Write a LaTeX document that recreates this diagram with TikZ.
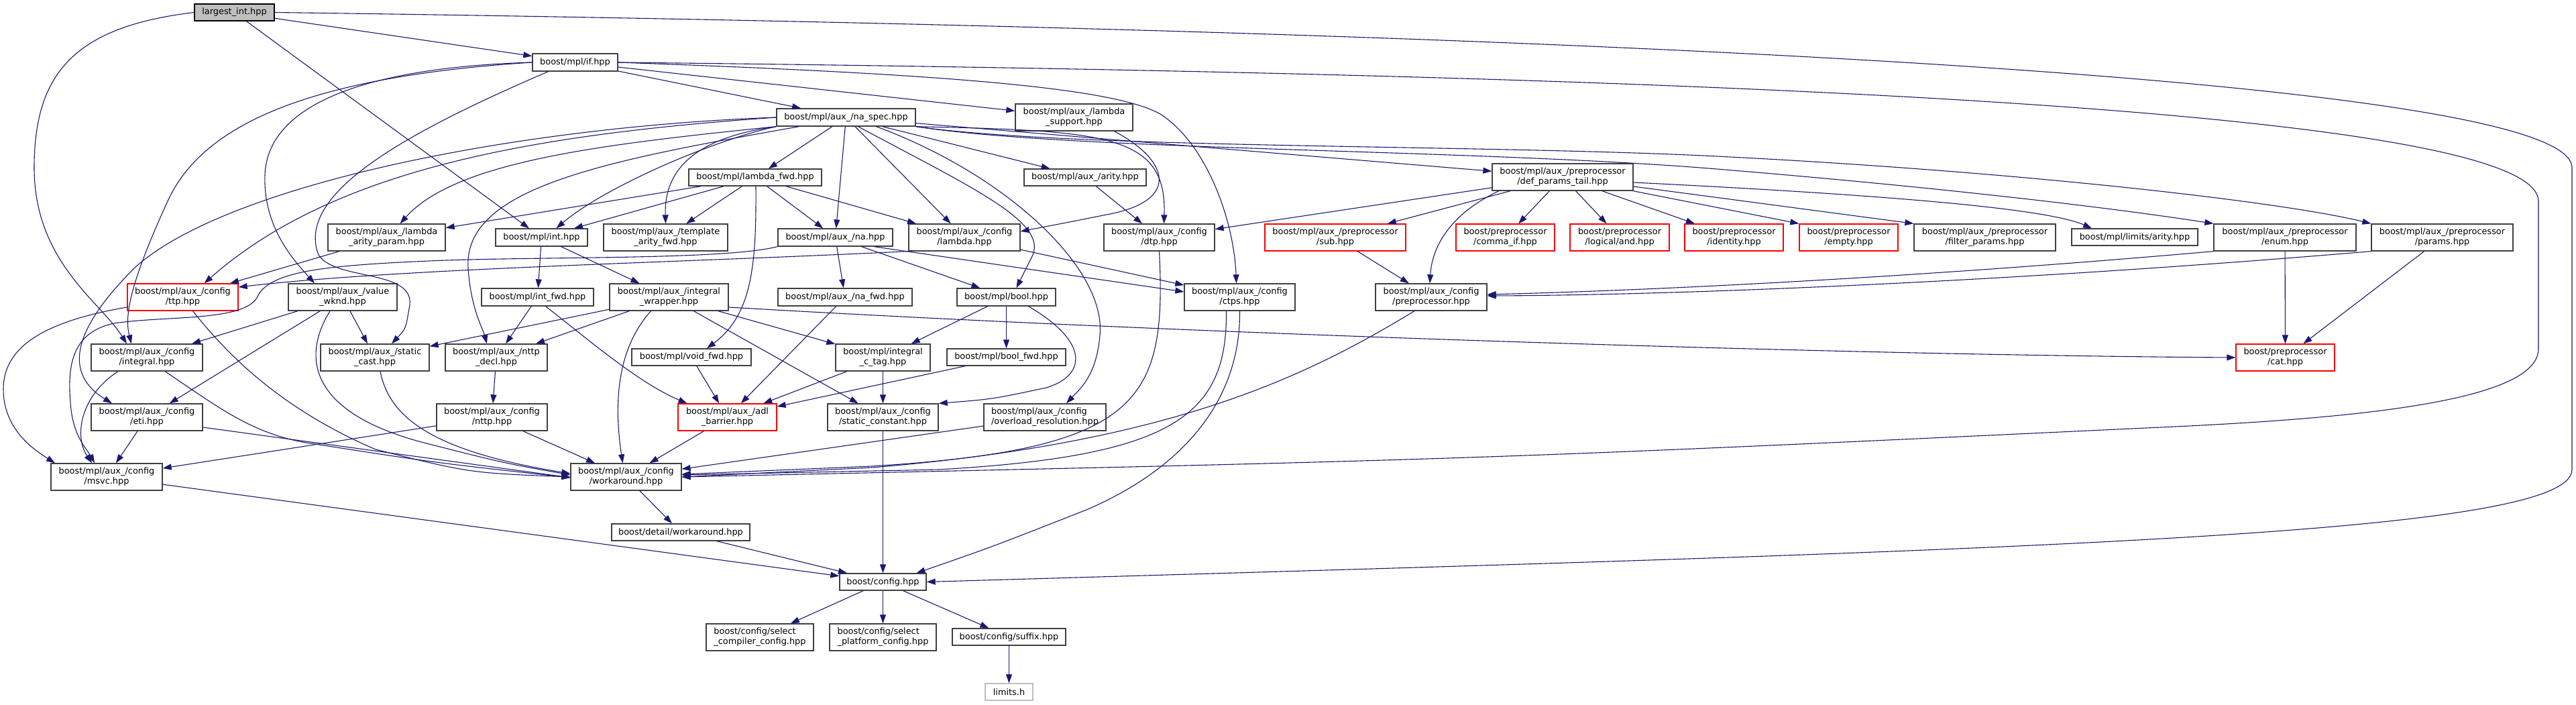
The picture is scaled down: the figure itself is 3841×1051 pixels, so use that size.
\documentclass[tikz,border=0pt]{standalone}
\usepackage{fontspec}
\setmainfont{DejaVu Sans}
\usetikzlibrary{arrows.meta}
\definecolor{edgec}{HTML}{191970}
\definecolor{nodeb}{HTML}{404040}
\definecolor{grayf}{HTML}{BFBFBF}
\newcommand\twol[2]{\begin{tabular}{@{}l@{}}#1\\\multicolumn{1}{@{}c@{}}{#2}\end{tabular}}
\tikzset{
  nb/.style={draw=nodeb, line width=1.3pt, fill=white, inner sep=0pt, text=black,
    font=\fontsize{12.9pt}{15.2pt}\selectfont},
  rb/.style={nb, draw=red},
  edg/.style={draw=edgec, line width=1.1pt, -{Triangle[length=13pt,width=9pt]}},
}
\begin{document}
\begin{tikzpicture}[x=1pt,y=-1pt]
\fill[white] (0,0) rectangle (3841,1051);
\useasboundingbox (0,0) rectangle (3841,1051);
% nodes
\node[nb,fill=grayf,draw=black,minimum width=119pt,minimum height=25pt] (A) at (349.5,18.5) {largest\_int.hpp};
\node[nb,minimum width=127pt,minimum height=26pt] (B) at (857.5,93) {boost/mpl/if.hpp};
\node[nb,minimum width=207pt,minimum height=26pt] (C) at (1261.5,175) {boost/mpl/aux\_/na\_spec.hpp};
\node[nb,minimum width=175pt,minimum height=40pt] (D) at (1601.5,175) {\twol{boost/mpl/aux\_/lambda}{\_support.hpp}};
\node[nb,minimum width=198pt,minimum height=25pt] (E) at (1126,264.5) {boost/mpl/lambda\_fwd.hpp};
\node[nb,minimum width=182pt,minimum height=25pt] (F) at (1618,264.5) {boost/mpl/aux\_/arity.hpp};
\node[nb,minimum width=210pt,minimum height=40pt] (G) at (2330,264) {\twol{boost/mpl/aux\_/preprocessor}{/def\_params\_tail.hpp}};
\node[nb,minimum width=175pt,minimum height=40pt] (H) at (576.5,354) {\twol{boost/mpl/aux\_/lambda}{\_arity\_param.hpp}};
\node[nb,minimum width=137pt,minimum height=26pt] (I) at (807.5,354) {boost/mpl/int.hpp};
\node[nb,minimum width=185pt,minimum height=40pt] (J) at (992.5,354) {\twol{boost/mpl/aux\_/template}{\_arity\_fwd.hpp}};
\node[nb,minimum width=171pt,minimum height=26pt] (K) at (1245.5,354) {boost/mpl/aux\_/na.hpp};
\node[nb,minimum width=166pt,minimum height=40pt] (L) at (1438,354) {\twol{boost/mpl/aux\_/config}{/lambda.hpp}};
\node[nb,minimum width=165pt,minimum height=40pt] (M) at (1728.5,354) {\twol{boost/mpl/aux\_/config}{/dtp.hpp}};
\node[rb,minimum width=210pt,minimum height=40pt] (N) at (1991,354) {\twol{boost/mpl/aux\_/preprocessor}{/sub.hpp}};
\node[rb,minimum width=147pt,minimum height=40pt] (O) at (2244.5,354) {\twol{boost/preprocessor}{/comma\_if.hpp}};
\node[rb,minimum width=148pt,minimum height=40pt] (P) at (2415,354) {\twol{boost/preprocessor}{/logical/and.hpp}};
\node[rb,minimum width=147pt,minimum height=40pt] (Q) at (2585.5,354) {\twol{boost/preprocessor}{/identity.hpp}};
\node[rb,minimum width=147pt,minimum height=40pt] (R) at (2756.5,354) {\twol{boost/preprocessor}{/empty.hpp}};
\node[nb,minimum width=211pt,minimum height=40pt] (S) at (2959.5,354) {\twol{boost/mpl/aux\_/preprocessor}{/filter\_params.hpp}};
\node[nb,minimum width=188pt,minimum height=25pt] (T) at (3183,353.5) {boost/mpl/limits/arity.hpp};
\node[nb,minimum width=212pt,minimum height=40pt] (U) at (3407,354) {\twol{boost/mpl/aux\_/preprocessor}{/enum.hpp}};
\node[nb,minimum width=211pt,minimum height=40pt] (V) at (3641.5,354) {\twol{boost/mpl/aux\_/preprocessor}{/params.hpp}};
\node[rb,minimum width=165pt,minimum height=40pt] (W) at (272.5,443) {\twol{boost/mpl/aux\_/config}{/ttp.hpp}};
\node[nb,minimum width=162pt,minimum height=40pt] (X) at (511,443) {\twol{boost/mpl/aux\_/value}{\_wknd.hpp}};
\node[nb,minimum width=167pt,minimum height=26pt] (Y) at (801.5,443) {boost/mpl/int\_fwd.hpp};
\node[nb,minimum width=177pt,minimum height=40pt] (Z) at (997.5,443) {\twol{boost/mpl/aux\_/integral}{\_wrapper.hpp}};
\node[nb,minimum width=200pt,minimum height=26pt] (AA) at (1260,443) {boost/mpl/aux\_/na\_fwd.hpp};
\node[nb,minimum width=147pt,minimum height=26pt] (AB) at (1500.5,443) {boost/mpl/bool.hpp};
\node[nb,minimum width=165pt,minimum height=40pt] (AC) at (1848.5,443) {\twol{boost/mpl/aux\_/config}{/ctps.hpp}};
\node[nb,minimum width=166pt,minimum height=40pt] (AD) at (2134,443) {\twol{boost/mpl/aux\_/config}{/preprocessor.hpp}};
\node[nb,minimum width=166pt,minimum height=40pt] (AE) at (219,533) {\twol{boost/mpl/aux\_/config}{/integral.hpp}};
\node[nb,minimum width=162pt,minimum height=40pt] (AF) at (559,533) {\twol{boost/mpl/aux\_/static}{\_cast.hpp}};
\node[nb,minimum width=152pt,minimum height=40pt] (AG) at (740,533) {\twol{boost/mpl/aux\_/nttp}{\_decl.hpp}};
\node[nb,minimum width=178pt,minimum height=25pt] (AH) at (1031,532.5) {boost/mpl/void\_fwd.hpp};
\node[nb,minimum width=141pt,minimum height=40pt] (AI) at (1316.5,533) {\twol{boost/mpl/integral}{\_c\_tag.hpp}};
\node[nb,minimum width=177pt,minimum height=25pt] (AJ) at (1500.5,532.5) {boost/mpl/bool\_fwd.hpp};
\node[rb,minimum width=147pt,minimum height=40pt] (AK) at (3407.5,533) {\twol{boost/preprocessor}{/cat.hpp}};
\node[nb,minimum width=166pt,minimum height=40pt] (AL) at (219,622) {\twol{boost/mpl/aux\_/config}{/eti.hpp}};
\node[nb,minimum width=165pt,minimum height=40pt] (AM) at (733.5,622) {\twol{boost/mpl/aux\_/config}{/nttp.hpp}};
\node[rb,minimum width=147pt,minimum height=40pt] (AN) at (1084.5,622) {\twol{boost/mpl/aux\_/adl}{\_barrier.hpp}};
\node[nb,minimum width=165pt,minimum height=40pt] (AO) at (1316.5,622) {\twol{boost/mpl/aux\_/config}{/static\_constant.hpp}};
\node[nb,minimum width=182pt,minimum height=40pt] (AP) at (1558,622) {\twol{boost/mpl/aux\_/config}{/overload\_resolution.hpp}};
\node[nb,minimum width=166pt,minimum height=40pt] (AQ) at (159,711) {\twol{boost/mpl/aux\_/config}{/msvc.hpp}};
\node[nb,minimum width=165pt,minimum height=40pt] (AR) at (933.5,711) {\twol{boost/mpl/aux\_/config}{/workaround.hpp}};
\node[nb,minimum width=206pt,minimum height=25pt] (AS) at (1015,793.5) {boost/detail/workaround.hpp};
\node[nb,minimum width=129pt,minimum height=25pt] (AT) at (1316.5,867.5) {boost/config.hpp};
\node[nb,minimum width=160pt,minimum height=40pt] (AU) at (1133,950) {\twol{boost/config/select}{\_compiler\_config.hpp}};
\node[nb,minimum width=159pt,minimum height=40pt] (AV) at (1316.5,950) {\twol{boost/config/select}{\_platform\_config.hpp}};
\node[nb,minimum width=169pt,minimum height=25pt] (AW) at (1504.5,949.5) {boost/config/suffix.hpp};
\node[nb,draw=grayf,minimum width=71pt,minimum height=25pt] (AX) at (1504.5,1031.5) {limits.h};
% largest_int
\draw[edg] (A) -- (B);
\draw[edg] (A) -- (I);
\draw[edg] (A.west) .. controls (110,40) and (51,110) .. (51,250) .. controls (51,390) and (150,450) .. ([xshift=-30pt]AE.north);
\draw[edg] (A.east) .. controls (2000,40) and (3835,100) .. (3835,250) -- (3835,700) .. controls (3835,800) and (3000,820) .. (AT.east);
% if
\draw[edg] (B.west) .. controls (560,100) and (400,150) .. (395,260) .. controls (392,340) and (440,390) .. ([xshift=-42pt]X.north);
\draw[edg] (B.west) .. controls (450,115) and (300,190) .. (250,300) .. controls (195,420) and (185,470) .. ([xshift=-23pt]AE.north);
\draw[edg] ([xshift=-40pt]B.south) .. controls (600,200) and (440,290) .. (475,380) .. controls (500,420) and (625,400) .. (610,460) .. controls (605,490) .. ([xshift=25pt]AF.north);
\draw[edg] (B) -- (C);
\draw[edg] (B) -- (D);
\draw[edg] (B.east) .. controls (1400,110) and (1660,130) .. (1730,170) .. controls (1800,215) and (1840,330) .. ([xshift=-5pt]AC.north);
\draw[edg] (B.east) .. controls (2500,110) and (3785,160) .. (3785,300) -- (3785,520) .. controls (3785,600) and (3500,625) .. (3200,638) .. controls (2200,685) .. (AR.east);
% na_spec
\draw[edg] (C) -- (E);
\draw[edg] (C) -- (K);
\draw[edg] (C.south west) .. controls (1060,210) and (900,280) .. ([xshift=22pt]I.north);
\draw[edg] (C.south west) .. controls (1040,205) and (990,250) .. (J.north);
\draw[edg] ([xshift=-70pt]C.south) .. controls (900,240) and (690,280) .. (698,400) .. controls (702,460) and (720,490) .. ([xshift=-14pt]AG.north);
\draw[edg] ([xshift=18pt]C.south) .. controls (1450,280) and (1560,330) .. (1540,380) .. controls (1530,400) .. ([xshift=15pt]AB.north);
\draw[edg] (C) -- (F);
\draw[edg] (C) -- (L);
\draw[edg] ([xshift=45pt]C.south) .. controls (1500,260) and (1650,400) .. (1640,500) .. controls (1635,560) and (1610,580) .. ([xshift=32pt]AP.north);
\draw[edg] (C.south east) .. controls (1650,195) and (1740,200) .. ([xshift=7pt]M.north);
\draw[edg] (C) -- (G);
\draw[edg] (C.south east) .. controls (1600,222) and (2200,215) .. (2560,233) .. controls (3000,255) and (3400,300) .. (V.north west);
\draw[edg] (C.south east) .. controls (1600,225) and (2200,222) .. (2560,252) .. controls (2900,280) and (3150,310) .. (U.north west);
\draw[edg] (C.south west) .. controls (900,215) and (680,240) .. ([xshift=20pt]H.north);
\draw[edg] (C.west) .. controls (800,200) and (500,250) .. ([xshift=32pt]W.north);
\draw[edg] (C.west) .. controls (750,190) and (330,280) .. (200,400) .. controls (100,500) and (100,560) .. ([xshift=-52pt]AL.north);
% lambda_support
\draw[edg] ([xshift=60pt]D.south) .. controls (1745,240) and (1760,300) .. (1650,320) .. controls (1600,330) .. ([yshift=9pt]L.east);
% lambda_fwd
\draw[edg] (E) -- (H);
\draw[edg] (E) -- (I);
\draw[edg] (E) -- (J);
\draw[edg] ([xshift=1pt]E.south) .. controls (1128,400) and (1120,470) .. ([xshift=23pt]AH.north);
\draw[edg] (E) -- (K);
\draw[edg] (E) -- (L);
% arity
\draw[edg] (F) -- (M);
% def_params_tail
\draw[edg] (G) -- (M);
\draw[edg] (G) -- (N);
\draw[edg] ([xshift=-95pt]G.south) .. controls (2160,320) and (2135,370) .. ([xshift=-2pt]AD.north);
\draw[edg] (G) -- (O);
\draw[edg] (G) -- (P);
\draw[edg] (G) -- (Q);
\draw[edg] (G) -- (R.north west);
\draw[edg] (G) -- (S.north west);
\draw[edg] ([yshift=-8pt]G.east) .. controls (2800,290) and (3050,310) .. ([xshift=-64pt]T.north);
% lambda_arity_param
\draw[edg] (H) -- (W);
% int
\draw[edg] (I) -- (Y);
\draw[edg] (I) -- (Z);
% na
\draw[edg] (K) -- (AA);
\draw[edg] (K) -- (AB);
\draw[edg] ([xshift=58pt]K.south) -- ([yshift=8pt]AC.west);
\draw[edg] (K.south west) .. controls (1080,388) and (800,382) .. (640,389) .. controls (480,396) and (405,405) .. (385,440) .. controls (370,480) and (250,470) .. (170,482) .. controls (110,495) and (100,540) .. (105,600) .. controls (108,650) and (130,670) .. ([xshift=-18pt]AQ.north);
% config/lambda
\draw[edg] (L.south west) .. controls (1000,392) and (600,400) .. ([yshift=15pt]W.east);
\draw[edg] (L) -- (AC);
% int_fwd
\draw[edg] (Y) -- (AG);
\draw[edg] ([xshift=12pt]Y.south) .. controls (870,500) and (950,570) .. ([xshift=-60pt]AN.north);
% integral_wrapper
\draw[edg] (Z) -- (AF);
\draw[edg] (Z) -- (AG);
\draw[edg] ([xshift=-27pt]Z.south) .. controls (920,520) and (915,600) .. ([xshift=-5pt]AR.north);
\draw[edg] (Z) -- (AO);
\draw[edg] (Z) -- (AI);
\draw[edg] ([yshift=-15pt]Z.east) .. controls (1800,500) and (2800,530) .. (AK.west);
% na_fwd, bool, bool_fwd, integral_c_tag, void_fwd
\draw[edg] (AA) -- (AN);
\draw[edg] (AB) -- (AI);
\draw[edg] (AB) -- (AJ);
\draw[edg] ([xshift=33pt]AB.south) .. controls (1625,510) and (1620,560) .. (1560,578) .. controls (1480,595) .. (AO.north east);
\draw[edg] (AJ) -- (AN);
\draw[edg] (AI) -- (AN);
\draw[edg] (AI) -- (AO);
\draw[edg] (AH) -- (AN);
% ctps, dtp, preprocessor
\draw[edg] ([xshift=-20pt]AC.south) .. controls (1830,620) and (1750,680) .. (1400,700) -- ([yshift=3pt]AR.east);
\draw[edg] (AC.south) .. controls (1850,600) and (1760,700) .. (1620,760) .. controls (1480,815) .. ([xshift=50pt]AT.north);
\draw[edg] (M.south) .. controls (1740,600) and (1700,670) .. (1300,695) -- ([yshift=4pt]AR.east);
\draw[edg] ([xshift=-25pt]AD.south) .. controls (1950,560) and (1750,660) .. (1300,697) -- (AR.east);
\draw[edg] (N) -- (AD);
\draw[edg] (U.south west) .. controls (2900,410) and (2500,432) .. ([yshift=4pt]AD.east);
\draw[edg] (U) -- (AK);
\draw[edg] (V.south west) .. controls (3000,420) and (2500,440) .. ([yshift=2pt]AD.east);
\draw[edg] (V) -- (AK);
\draw[edg] (AP) -- (AR);
\draw[edg] (AO) -- (AT);
% value_wknd
\draw[edg] (X) -- (AE);
\draw[edg] (X) -- (AL);
\draw[edg] (X) -- (AF);
\draw[edg] ([xshift=-19pt]X.south) .. controls (445,540) and (470,620) .. (640,662) .. controls (750,690) .. ([yshift=3pt]AR.west);
% static_cast
\draw[edg] ([xshift=8pt]AF.south) .. controls (580,620) and (640,672) .. ([yshift=5pt]AR.west);
% ttp
\draw[edg] ([yshift=-15pt]W.west) .. controls (60,480) and (5,520) .. (5,580) .. controls (5,640) and (50,670) .. ([xshift=-77pt]AQ.north);
\draw[edg] ([xshift=15pt]W.south) .. controls (340,530) and (420,610) .. (560,670) .. controls (700,705) .. (AR.west);
% integral
\draw[edg] ([xshift=-43pt]AE.south) .. controls (120,590) and (110,650) .. ([xshift=-22pt]AQ.north);
\draw[edg] ([xshift=27pt]AE.south) .. controls (330,610) and (380,650) .. (470,662) .. controls (650,690) .. ([yshift=-1pt]AR.west);
% eti
\draw[edg] ([yshift=-15pt]AL.east) -- ([yshift=-1pt]AR.west);
\draw[edg] (AL) -- (AQ);
% nttp
\draw[edg] (AM) -- (AQ);
\draw[edg] (AM) -- (AR);
\draw[edg] (AG) -- (AM);
\draw[edg] (AN) -- (AR);
% bottom
\draw[edg] (AQ) -- (AT);
\draw[edg] (AR) -- (AS);
\draw[edg] (AS) -- (AT);
\draw[edg] (AT) -- (AU);
\draw[edg] (AT) -- (AV);
\draw[edg] (AT) -- (AW);
\draw[edg] (AW) -- (AX);
\end{tikzpicture}
\end{document}
